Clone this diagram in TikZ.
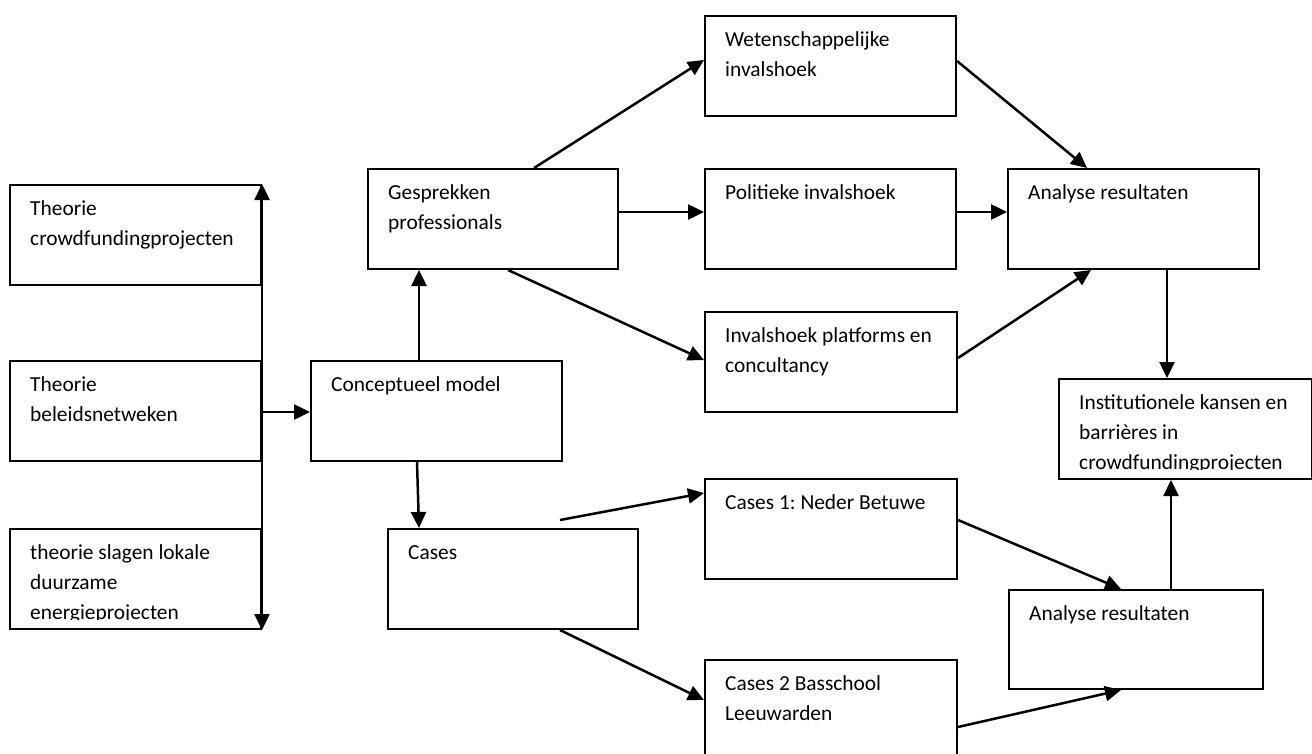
\documentclass[tikz,border=0pt]{standalone}
\usepackage{fontspec}
\setmainfont{Carlito}
\usetikzlibrary{arrows.meta,calc}
\frenchspacing
\begin{document}
\begin{tikzpicture}[x=1pt,y=-1pt,
  box/.style={draw, line width=2pt, minimum width=251pt, minimum height=100pt, inner sep=0pt, anchor=north west},
  txt/.style={anchor=north west, inner sep=0pt, align=left, font=\fontsize{21.4}{30}\selectfont},
  arr/.style={line width=2.5pt, -{Triangle[length=16pt,width=15pt]}},
  darr/.style={line width=2.5pt, {Triangle[length=16pt,width=15pt]}-{Triangle[length=16pt,width=15pt]}},
]
\useasboundingbox (0,0) rectangle (1312,753);
% boxes
\node[box] (b1) at (9,184) {};
\node[box] (b2) at (9,360) {};
\node[box] (b3) at (9,528) {};
\node[box] (cm) at (310,360) {};
\node[box, minimum width=250pt] (cases) at (387,528) {};
\node[box, minimum width=250pt] (gp) at (367,168) {};
\node[box] (wi) at (704,15) {};
\node[box] (pi) at (704,168) {};
\node[box, minimum width=252pt] (ip) at (704,311) {};
\node[box] (ar1) at (1007,168) {};
\node[box, minimum width=253pt] (inst) at (1058,378) {};
\node[box, minimum width=252pt] (c1) at (704,478) {};
\node[box, minimum width=252pt] (c2) at (704,659) {};
\node[box, minimum width=254pt, minimum height=99pt] (ar2) at (1008,589) {};
% texts
\node[txt] (t1) at ([xshift=21pt,yshift=-10pt]b1.north west) {\strut Theorie\\crowdfundingprojecten};
\node[txt] (t2) at ([xshift=21pt,yshift=-10pt]b2.north west) {\strut Theorie\\beleidsnetweken};
\begin{scope}
\clip (b3.north west) rectangle ([yshift=10.5pt]b3.south east);
\node[txt] (t3) at ([xshift=21pt,yshift=-10pt]b3.north west) {\strut theorie slagen lokale\\duurzame\\energieprojecten};
\end{scope}
\node[txt] (tcm) at ([xshift=21pt,yshift=-10pt]cm.north west) {\strut Conceptueel model};
\node[txt] (tcases) at ([xshift=21pt,yshift=-10pt]cases.north west) {\strut Cases};
\node[txt] (tgp) at ([xshift=21pt,yshift=-10pt]gp.north west) {\strut Gesprekken\\professionals};
\node[txt] (twi) at ([xshift=21pt,yshift=-10pt]wi.north west) {\strut Wetenschappelijke\\invalshoek};
\node[txt] (tpi) at ([xshift=21pt,yshift=-10pt]pi.north west) {\strut Politieke invalshoek};
\node[txt] (tip) at ([xshift=21pt,yshift=-10pt]ip.north west) {\strut Invalshoek platforms en\\concultancy};
\node[txt] (tar1) at ([xshift=21pt,yshift=-10pt]ar1.north west) {\strut Analyse resultaten};
\begin{scope}
\clip (inst.north west) rectangle ([yshift=10.5pt]inst.south east);
\node[txt] (tinst) at ([xshift=21pt,yshift=-10pt]inst.north west) {\strut Institutionele kansen en\\barrières in\\crowdfundingprojecten};
\end{scope}
\node[txt] (tc1) at ([xshift=21pt,yshift=-10pt]c1.north west) {\strut Cases 1: Neder Betuwe};
\node[txt] (tc2) at ([xshift=21pt,yshift=-10pt]c2.north west) {\strut Cases 2 Basschool\\Leeuwarden};
\node[txt] (tar2) at ([xshift=21pt,yshift=-10pt]ar2.north west) {\strut Analyse resultaten};
% connectors
\draw[darr] (b1.north east) -- (b3.south east);
\draw[arr] ($(b2.north east)+(0,52)$) -- ($(cm.north west)+(0,52)$);
\draw[arr] ($(cm.north west)+(109,0)$) -- ($(gp.south west)+(52,0)$);
\draw[arr] ($(cm.south west)+(107,0)$) -- ($(cases.north west)+(32,0)$);
\draw[arr] ($(gp.north west)+(167,0)$) -- ($(wi.north west)+(0,45)$);
\draw[arr] ($(gp.north east)+(0,44)$) -- ($(pi.north west)+(0,44)$);
\draw[arr] ($(gp.south west)+(141,0)$) -- ($(ip.north west)+(0,49)$);
\draw[arr] ($(wi.north east)+(0,46)$) -- ($(ar1.north west)+(80,0)$);
\draw[arr] ($(pi.north east)+(0,44)$) -- ($(ar1.north west)+(0,44)$);
\draw[arr] ($(ip.north east)+(0,47)$) -- ($(ar1.south west)+(84,0)$);
\draw[arr] ($(ar1.south west)+(160,0)$) -- ($(inst.north west)+(109,0)$);
\coordinate (cs) at ($(cases.north west)+(173,-8)$);
\draw[arr] (cs) -- ($(c1.north west)+(0,15)$);
\draw[arr] ($(cases.south west)+(173,0)$) -- ($(c2.north west)+(0,41)$);
\draw[arr] ($(c1.north east)+(0,42)$) -- ($(ar2.north west)+(113,0)$);
\draw[arr] ($(c2.north east)+(0,68)$) -- ($(ar2.south west)+(113,0)$);
\draw[arr] ($(ar2.north west)+(163,0)$) -- ($(inst.south west)+(113,0)$);
\end{tikzpicture}
\end{document}
